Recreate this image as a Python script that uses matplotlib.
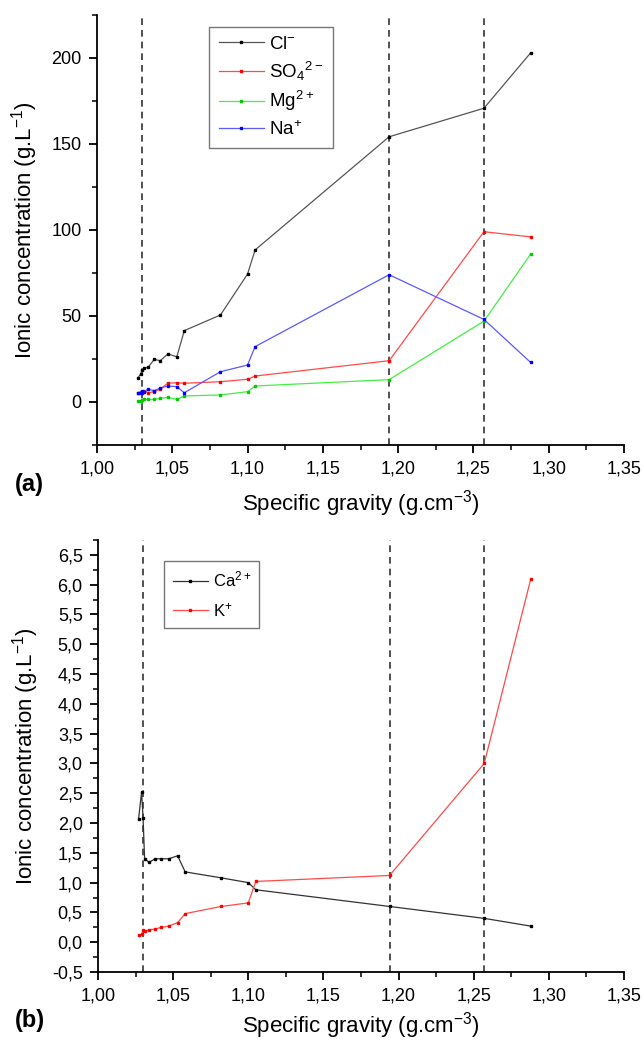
import numpy as np
import matplotlib
matplotlib.use('Agg')
import matplotlib.pyplot as plt
from matplotlib.ticker import MultipleLocator, FuncFormatter

plt.rcParams['font.family'] = ['Liberation Sans', 'DejaVu Sans']
plt.rcParams['mathtext.default'] = 'regular'

# specific gravity of the samples
sg = [1.027, 1.029, 1.030, 1.031, 1.034, 1.038, 1.042, 1.047, 1.053, 1.058,
      1.082, 1.100, 1.105, 1.194, 1.257, 1.288]

# panel (a), g/L
cl = [13.8, 16.3, 18.6, 19.6, 20.2, 24.8, 24.0, 27.9, 26.3, 41.5,
      50.6, 74.4, 88.4, 154.2, 170.8, 203.0]
so4 = [5.4, 5.8, 5.4, 6.6, 5.4, 6.0, 7.4, 10.9, 11.2, 10.9,
       11.8, 13.2, 15.1, 24.0, 99.0, 96.0]
mg = [0.8, 0.8, 1.2, 1.5, 1.5, 1.5, 2.1, 2.7, 1.5, 3.5,
      4.1, 6.0, 9.3, 13.0, 47.0, 86.0]
na = [5.4, 5.4, 6.6, 6.0, 7.4, 6.6, 8.1, 9.3, 8.9, 5.4,
      17.6, 21.5, 32.2, 74.0, 48.0, 23.0]

# panel (b), g/L
ca = [2.07, 2.52, 2.08, 1.40, 1.34, 1.40, 1.40, 1.40, 1.45, 1.18,
      1.08, 1.00, 0.88, 0.60, 0.40, 0.27]
k = [0.12, 0.13, 0.20, 0.18, 0.21, 0.22, 0.25, 0.27, 0.33, 0.48,
     0.60, 0.66, 1.02, 1.12, 3.00, 6.10]

vlines = [1.030, 1.194, 1.257]

comma = FuncFormatter(lambda v, p: ('%.2f' % v).replace('.', ','))
comma1 = FuncFormatter(lambda v, p: ('%.1f' % v).replace('.', ','))

fig = plt.figure(figsize=(6.44, 10.47), dpi=100)
W, H = 644.0, 1047.0
ax1 = fig.add_axes([97 / W, 1 - 445 / H, (624 - 97) / W, (445 - 15) / H])
ax2 = fig.add_axes([98 / W, 1 - 972 / H, (624 - 98) / W, (972 - 540) / H])


def style(ax):
    for s in ['top', 'right']:
        ax.spines[s].set_visible(False)
    for s in ['left', 'bottom']:
        ax.spines[s].set_linewidth(1.3)
    ax.tick_params(which='major', direction='out', length=6, width=1.3, labelsize=13, pad=5)
    ax.tick_params(which='minor', direction='out', length=3.5, width=1.1)
    ax.set_xlim(1.00, 1.35)
    ax.xaxis.set_major_locator(MultipleLocator(0.05))
    ax.xaxis.set_minor_locator(MultipleLocator(0.025))
    ax.xaxis.set_major_formatter(comma)
    for v in vlines:
        ax.axvline(v, color='#333333', ls=(0, (4, 3)), lw=1.2, zorder=1)
    ax.set_ylabel('Ionic concentration (g.L$^{-1}$)', fontsize=16, labelpad=8)


mk = dict(marker='s', ms=2.0, lw=0.9)

ax1.plot(sg, cl, color='#555555', mfc='black', mec='black', label='Cl$^{-}$', **mk)
ax1.plot(sg, so4, color='#ff4a4a', mfc='red', mec='red', label='SO$_4$$^{2-}$', **mk)
ax1.plot(sg, mg, color='#44ee44', mfc='#00cc00', mec='#00cc00', label='Mg$^{2+}$', **mk)
ax1.plot(sg, na, color='#5a5aff', mfc='blue', mec='blue', label='Na$^{+}$', **mk)
style(ax1)
ax1.set_xlabel('Specific gravity (g.cm$^{-3}$)', fontsize=16, labelpad=8)
ax1.set_ylim(-25, 225)
ax1.yaxis.set_major_locator(MultipleLocator(50))
ax1.yaxis.set_minor_locator(MultipleLocator(25))
ax1.legend(loc='upper left', bbox_to_anchor=(0.195, 0.995), fontsize=13.5, frameon=True,
           fancybox=False, edgecolor='#555555', handlelength=2.4, handletextpad=0.3,
           labelspacing=0.35, borderpad=0.5)

ax2.plot(sg, ca, color='#333333', mfc='black', mec='black', label='Ca$^{2+}$', **mk)
ax2.plot(sg, k, color='#ff4a4a', mfc='red', mec='red', label='K$^{+}$', **mk)
style(ax2)
ax2.set_xlabel('Specific gravity (g.cm$^{-3}$)', fontsize=16, labelpad=4)
ax2.set_ylim(-0.5, 6.75)
ax2.yaxis.set_major_locator(MultipleLocator(0.5))
ax2.yaxis.set_minor_locator(MultipleLocator(0.25))
ax2.yaxis.set_major_formatter(comma1)
ax2.legend(loc='upper left', bbox_to_anchor=(0.11, 0.97), fontsize=12, frameon=True,
           fancybox=False, edgecolor='#555555', handlelength=2.1, handletextpad=0.3,
           labelspacing=0.7, borderpad=0.5)

fig.text(15 / W, 1 - 485 / H, '(a)', fontsize=17, fontweight='bold', va='center')
fig.text(15 / W, 1 - 1020 / H, '(b)', fontsize=17, fontweight='bold', va='center')

fig.savefig('out.png', dpi=100)
